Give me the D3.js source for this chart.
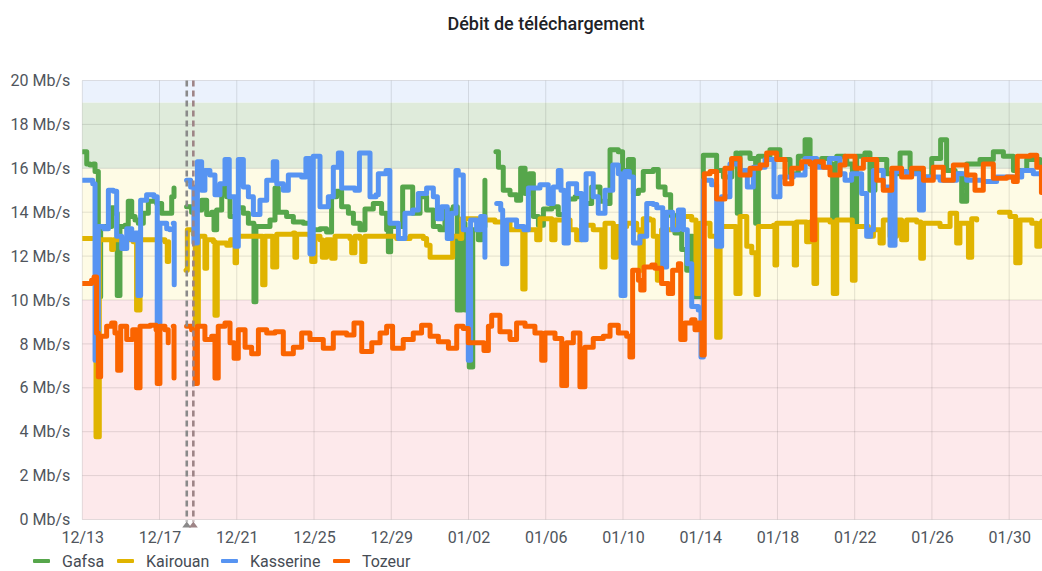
<!DOCTYPE html>
<html>
<head>
<meta charset="utf-8">
<script src="https://cdn.jsdelivr.net/npm/d3@7"></script>
<style>
	body { margin: 0; background: #fff; font-family: Roboto, "Noto Sans", sans-serif; }
	.tick text { fill: #4f555c; font-size: 16px; font-family: Roboto, sans-serif; }
	.title { fill: #202226; font-size: 18px; font-weight: 500; }
	.legendLabel { fill: #464c54; font-size: 16px; }
</style>
</head>
<body>
<div id="chart"></div>
<script>
// time axis labels and y ticks
var tickLabels = ["12/13","12/17","12/21","12/25","12/29","01/02","01/06","01/10","01/14","01/18","01/22","01/26","01/30"];
var yTicks = [0,2,4,6,8,10,12,14,16,18,20];
var thresholds = [0,10,16,19,20];
var spanDays = 49.7;          // visible range, days from 12/13 00:00
var annotationDays = [5.41, 5.75];

var seriesNames = ["Gafsa","Kairouan","Kasserine","Tozeur"];

// [days since 12/13, Mb/s] ; null = no data
var gafsa = [[0.02,16.75],[0.23,16.2],[0.40,16.15],[0.57,16.2],[0.66,15.85],[0.83,10.15],[0.95,13.35],[1.26,13.35],[1.52,14.2],[1.69,13.95],[1.81,10.2],[1.95,13.35],[2.21,13.4],[2.38,14.5],[2.56,13.8],[2.73,13.65],[2.90,13.5],[3.16,13.95],[3.42,14.5],[3.85,14.4],[4.11,13.95],[4.40,13.95],[4.63,14.7],[4.75,15.1],[4.8,null],
	[5.40,14.25],[5.66,14.0],[5.92,14.1],[6.18,14.55],[6.44,13.9],[6.70,14.0],[6.82,13.2],[6.96,14.1],[7.22,15.1],[7.48,14.7],[7.65,13.8],[7.99,14.2],[8.34,13.95],[8.60,13.5],[8.82,13.5],[8.89,9.92],[8.99,13.35],[9.37,13.35],[9.72,13.65],[9.98,15.1],[10.15,14.0],[10.58,13.8],[10.93,13.55],[11.45,13.5],[11.88,13.2],[12.31,13.25],[12.65,13.1],[12.91,14.7],[13.17,14.95],[13.43,14.25],[13.78,13.95],[14.04,13.5],[14.38,13.2],[14.64,14.15],[15.07,14.4],[15.50,13.95],[15.76,13.2],[15.85,12.2],[15.97,13.35],[16.37,13.35],[16.59,15.15],[16.94,15.15],[17.11,13.95],[17.49,14.7],[17.83,14.1],[18.18,13.35],[18.52,13.2],[18.78,14.1],[19.21,14.25],[19.42,9.55],[19.65,13.5],[19.82,9.55],[20.04,6.95],[20.22,13.2],[20.51,12.75],[20.68,13.35],[20.85,15.45],[20.95,null],
	[21.42,16.75],[21.55,16.05],[21.80,15.0],[22.15,14.8],[22.49,14.55],[22.70,16.0],[22.93,14.85],[23.15,15.75],[23.36,13.8],[23.62,13.4],[23.88,14.15],[24.31,14.25],[24.65,13.9],[25.00,14.6],[25.52,14.7],[26.03,14.4],[26.38,15.15],[26.81,14.5],[27.16,14.4],[27.33,16.85],[27.76,16.75],[27.98,15.9],[28.28,16.4],[28.54,14.85],[28.80,15.0],[29.05,15.85],[29.57,15.95],[29.83,15.15],[30.18,14.8],[30.47,13.85],[30.69,13.05],[31.04,12.3],[31.30,11.35],[31.47,12.9],[31.61,10.15],[31.82,10.15],[32.16,16.6],[32.59,16.6],[32.85,15.9],[33.20,15.6],[33.63,16.4],[33.85,16.7],[33.92,13.95],[34.06,16.7],[34.58,16.45],[34.87,13.5],[35.01,16.55],[35.61,16.85],[36.13,16.4],[36.65,15.75],[37.08,16.55],[37.43,17.3],[37.69,16.2],[38.29,16.45],[38.72,16.2],[38.86,13.65],[39.07,16.55],[39.50,16.45],[39.59,16.2],[39.88,13.5],[40.10,16.55],[40.53,16.7],[40.79,15.0],[41.05,16.4],[41.66,15.75],[42.35,16.7],[42.87,15.9],[43.38,15.6],[43.99,16.45],[44.45,17.3],[44.76,15.9],[45.20,15.75],[45.54,14.5],[45.80,16.2],[46.49,16.4],[47.18,16.75],[47.70,16.55],[48.22,15.9],[48.91,16.4],[49.60,16.1],[49.70,16.1]];

var kairouan = [[0.02,12.8],[0.57,12.8],[0.71,3.77],[0.88,12.75],[1.52,12.3],[1.61,12.75],[2.64,12.65],[2.81,9.55],[2.99,12.75],[4.28,12.65],[4.40,11.75],[4.47,12.65],[4.55,null],
	[5.37,11.35],[5.44,13.2],[5.75,13.0],[5.85,8.85],[6.01,12.9],[6.35,11.45],[6.44,12.75],[6.79,12.65],[6.87,9.3],[6.99,12.6],[7.48,12.5],[7.68,12.75],[7.91,11.7],[7.99,12.9],[9.20,12.9],[9.34,10.7],[9.46,12.9],[9.86,11.5],[10.07,13.0],[10.93,13.05],[11.01,11.95],[11.10,13.0],[11.79,12.9],[11.88,11.75],[12.05,12.9],[12.31,12.75],[12.43,11.95],[12.65,12.75],[12.91,11.9],[13.09,12.9],[13.86,12.8],[13.95,12.15],[14.12,12.9],[14.38,12.8],[14.47,11.75],[14.64,12.9],[16.28,12.8],[16.97,12.9],[17.66,12.8],[17.83,12.5],[18.01,11.95],[19.04,11.95],[19.18,12.9],[19.56,12.8],[19.65,13.7],[20.16,13.7],[20.60,13.65],[21.37,13.55],[22.15,13.2],[22.81,10.5],[22.93,13.2],[23.53,12.75],[23.70,13.7],[24.31,12.75],[24.48,13.65],[25.26,13.2],[25.60,12.75],[25.86,13.4],[26.46,13.2],[26.90,11.5],[27.07,13.5],[27.50,11.95],[27.67,13.35],[28.19,13.5],[28.71,13.2],[28.88,11.35],[29.05,13.7],[29.40,13.65],[29.57,12.9],[29.78,10.9],[30.00,13.2],[30.61,13.65],[31.13,13.8],[31.56,13.65],[31.78,10.3],[31.99,13.5],[32.51,12.9],[32.85,8.3],[33.03,13.35],[33.63,13.35],[33.85,10.3],[34.06,13.8],[34.41,12.45],[34.67,12.15],[34.89,10.25],[35.01,13.35],[35.79,13.4],[35.87,11.6],[35.96,13.5],[36.82,13.5],[36.87,11.6],[36.99,13.55],[37.51,12.65],[37.69,13.55],[37.89,10.75],[38.03,13.65],[38.72,13.55],[38.89,10.3],[39.07,13.65],[39.59,13.65],[39.88,10.9],[40.02,13.35],[40.45,13.35],[40.71,12.9],[40.97,13.2],[41.31,12.6],[41.48,13.65],[41.83,12.9],[42.17,13.65],[42.43,12.75],[42.69,13.65],[43.21,13.55],[43.42,11.9],[43.56,13.5],[44.42,13.35],[44.94,13.95],[45.28,12.6],[45.45,13.5],[45.89,11.95],[46.06,13.7],[46.32,13.65],[46.4,null],
	[47.49,14.0],[48.04,13.8],[48.34,11.7],[48.56,13.65],[49.17,13.5],[49.43,12.45],[49.60,13.5],[49.70,13.6]];

var kasserine = [[0.02,15.45],[0.54,15.3],[0.66,7.25],[0.83,13.35],[1.12,13.25],[1.35,15.0],[1.61,14.95],[1.78,12.9],[2.04,12.35],[2.30,13.25],[2.56,12.75],[2.73,13.05],[2.88,10.2],[3.02,14.55],[3.33,14.8],[3.71,14.7],[3.88,8.95],[4.02,13.5],[4.37,13.25],[4.54,13.2],[4.62,null],[4.71,13.5],[4.76,10.7],[4.8,null],
	[5.40,15.45],[5.61,15.15],[5.78,12.6],[5.96,16.3],[6.18,15.0],[6.35,15.9],[6.61,15.7],[6.87,14.8],[7.13,15.3],[7.39,16.4],[7.61,14.7],[7.91,12.45],[8.08,16.4],[8.34,15.15],[8.60,14.7],[8.86,13.9],[9.20,14.55],[9.55,15.45],[9.89,16.3],[10.07,15.3],[10.41,15.0],[10.67,15.7],[11.36,15.6],[11.58,16.45],[11.79,12.1],[11.96,16.55],[12.31,14.25],[12.74,14.7],[13.00,16.05],[13.26,16.7],[13.43,15.1],[14.12,15.0],[14.35,16.7],[14.76,16.7],[14.90,14.7],[15.21,14.8],[15.33,15.75],[15.73,15.9],[15.93,13.5],[16.37,12.8],[16.71,13.95],[17.11,14.1],[17.40,14.85],[17.83,15.1],[18.18,14.7],[18.39,13.7],[18.61,14.25],[18.90,12.8],[19.13,13.95],[19.35,15.9],[19.47,15.7],[19.73,13.2],[19.99,7.25],[20.11,13.65],[20.42,13.2],[20.63,13.8],[20.85,11.95],[20.95,null],
	[21.46,14.4],[21.67,14.1],[21.77,11.65],[21.98,13.65],[22.49,13.35],[22.87,13.2],[23.10,15.1],[23.70,15.25],[24.13,14.4],[24.39,15.15],[24.65,15.9],[24.79,15.0],[24.95,12.6],[25.17,15.3],[25.60,14.85],[25.86,12.75],[26.09,15.75],[26.46,14.7],[26.72,13.95],[27.07,15.0],[27.47,16.15],[27.76,15.75],[27.90,10.2],[28.10,15.85],[28.33,15.6],[28.54,12.6],[28.88,12.9],[29.23,14.4],[29.57,14.35],[29.75,14.2],[30.06,11.5],[30.26,14.0],[30.57,13.2],[30.87,14.1],[31.13,13.2],[31.33,11.65],[31.56,9.7],[31.90,9.55],[32.04,7.4],[32.16,15.45],[32.59,15.25],[32.85,12.45],[33.11,14.7],[33.54,16.2],[34.06,15.9],[34.44,15.15],[34.75,16.05],[35.36,16.4],[35.82,14.7],[36.13,15.6],[36.82,15.7],[37.43,16.45],[38.03,16.05],[38.69,16.45],[39.24,15.75],[39.50,15.45],[39.84,15.75],[40.36,14.85],[40.62,12.9],[40.83,13.2],[40.97,15.9],[41.48,15.15],[41.83,12.5],[42.09,15.85],[42.69,15.75],[43.35,14.1],[43.56,15.6],[44.42,15.45],[45.28,15.75],[45.80,15.45],[46.66,15.4],[47.35,15.6],[48.22,15.6],[48.65,15.9],[49.25,15.75],[49.70,15.6]];

var tozeur = [[0.02,10.75],[0.48,10.9],[0.61,11.05],[0.74,8.5],[0.83,6.5],[0.95,8.35],[1.26,8.8],[1.52,8.95],[1.69,8.5],[1.83,6.8],[1.99,8.8],[2.30,8.2],[2.61,8.65],[2.81,6.0],[2.99,8.8],[3.51,8.85],[3.82,8.65],[3.88,6.2],[4.02,8.8],[4.28,8.65],[4.45,8.05],[4.52,null],[4.71,8.8],[4.75,6.45],[4.8,null],
	[5.40,8.8],[5.66,8.65],[5.84,6.2],[5.96,8.8],[6.35,8.2],[6.70,8.35],[6.87,6.45],[7.04,8.8],[7.39,8.95],[7.65,8.05],[7.86,7.35],[8.08,8.65],[8.43,7.85],[8.77,7.55],[9.12,8.65],[9.55,8.5],[9.98,8.55],[10.41,7.55],[10.93,7.85],[11.36,8.5],[11.79,8.2],[12.48,7.8],[13.00,8.5],[13.69,8.4],[14.07,8.95],[14.47,7.65],[14.99,8.05],[15.42,8.5],[15.76,8.8],[16.07,7.8],[16.62,8.2],[17.14,8.5],[17.57,8.85],[18.01,8.35],[18.44,8.1],[18.96,7.8],[19.39,8.8],[19.73,8.7],[19.99,8.05],[20.42,8.05],[20.80,7.7],[21.03,8.8],[21.20,9.3],[21.63,8.55],[22.15,8.2],[22.49,8.95],[22.93,8.8],[23.44,8.5],[23.79,7.25],[23.96,8.5],[24.48,8.25],[24.83,6.1],[25.08,8.05],[25.43,8.5],[25.77,6.05],[26.03,7.85],[26.46,8.25],[26.98,8.35],[27.33,8.85],[27.76,8.5],[28.19,8.35],[28.36,7.4],[28.50,11.35],[28.80,10.9],[28.92,10.45],[29.09,11.5],[29.49,11.6],[29.66,11.45],[30.00,10.75],[30.35,10.3],[30.57,11.35],[30.87,11.65],[30.99,8.2],[31.21,8.95],[31.56,9.1],[31.73,8.65],[31.90,8.95],[32.09,7.5],[32.21,15.75],[32.51,15.85],[32.85,14.6],[33.28,16.0],[33.63,16.45],[34.06,15.7],[34.58,16.0],[35.10,16.15],[35.44,16.7],[35.96,16.4],[36.39,15.3],[36.74,16.0],[37.25,16.3],[37.69,16.2],[37.81,12.75],[37.94,16.3],[38.38,16.05],[38.72,15.7],[39.24,16.15],[39.50,16.55],[40.02,16.0],[40.45,16.4],[41.14,15.45],[41.48,15.0],[41.92,16.0],[42.43,15.6],[42.95,16.0],[43.56,15.45],[44.07,16.05],[44.59,15.45],[45.11,16.15],[45.80,15.7],[46.23,15.0],[46.66,16.2],[47.18,15.55],[47.87,15.6],[48.22,15.4],[48.42,16.55],[49.08,16.6],[49.43,16.05],[49.67,14.9],[49.70,14.9]];

var seriesData = [gafsa, kairouan, kasserine, tozeur];

chartDraw();

function chartDraw() {
	var width = 1042, height = 571;
	var margin = {top: 80.5, left: 82.3, bottom: 51.5, right: 0};

	var colors = ["#56a64b","#e0b400","#5794f2","#fa6400"];
	var bandColors = ["#fde9eb","#fefbe5","#dfebdb","#ebf2fd"];

	var startDate = new Date(Date.UTC(2021, 11, 13));
	var toDate = function(days) { return new Date(startDate.getTime() + days * 864e5); };
	var parseTick = function(lbl) {
		var year = lbl.substring(0, 2) === "12" ? 2021 : 2022;
		return d3.utcParse("%m/%d/%Y")(lbl + "/" + year);
	};

	var x = d3.scaleUtc()
		.domain([startDate, toDate(spanDays)])
		.range([margin.left, width - margin.right]);

	var y = d3.scaleLinear()
		.domain([0, 20])
		.range([height - margin.bottom, margin.top]);

	var svg = d3.select("#chart").append("svg")
		.attr("width", width)
		.attr("height", height);

	svg.append("defs").append("clipPath").attr("id", "plotClip")
		.append("rect")
		.attr("x", x.range()[0]).attr("y", y(20) - 3)
		.attr("width", x.range()[1] - x.range()[0])
		.attr("height", y(0) - y(20) + 6);

	// threshold bands
	svg.append("g").selectAll("rect")
		.data(d3.pairs(thresholds))
		.enter().append("rect")
		.attr("x", x.range()[0])
		.attr("width", x.range()[1] - x.range()[0])
		.attr("y", function(d) { return y(d[1]); })
		.attr("height", function(d) { return y(d[0]) - y(d[1]); })
		.attr("fill", function(d, i) { return bandColors[i]; });

	// grid
	var tickDates = tickLabels.map(parseTick);
	svg.append("g").selectAll("line")
		.data(tickDates)
		.enter().append("line")
		.attr("x1", function(d) { return x(d); })
		.attr("x2", function(d) { return x(d); })
		.attr("y1", y(20)).attr("y2", y(0))
		.attr("stroke", "rgba(0,0,0,0.11)");

	svg.append("g").selectAll("line")
		.data(yTicks)
		.enter().append("line")
		.attr("x1", x.range()[0]).attr("x2", x.range()[1])
		.attr("y1", function(d) { return y(d); })
		.attr("y2", function(d) { return y(d); })
		.attr("stroke", "rgba(0,0,0,0.11)");

	// series - stepped, like the dashboard's dense samples
	var line = d3.line()
		.defined(function(d) { return d[1] != null; })
		.curve(d3.curveStepAfter)
		.x(function(d) { return x(toDate(d[0])); })
		.y(function(d) { return y(d[1]); });

	svg.append("g").attr("clip-path", "url(#plotClip)")
		.selectAll("path")
		.data(seriesData)
		.enter().append("path")
		.attr("d", line)
		.attr("fill", "none")
		.attr("stroke", function(d, i) { return colors[i]; })
		.attr("stroke-width", 5)
		.attr("stroke-linejoin", "round")
		.attr("stroke-linecap", "round");

	// annotations
	var annColors = ["#8a8a8a", "#9e8486"];
	var ann = svg.append("g").selectAll("g")
		.data(annotationDays)
		.enter().append("g")
		.attr("transform", function(d) { return "translate(" + x(toDate(d)) + ",0)"; });

	ann.append("line")
		.attr("y1", y(20)).attr("y2", y(0) + 2)
		.attr("stroke", function(d, i) { return annColors[i]; })
		.attr("stroke-width", 2.6)
		.attr("stroke-dasharray", "6,4");

	ann.append("path")
		.attr("d", "M-4.5," + (y(0) + 8) + "L0," + (y(0) + 2) + "L4.5," + (y(0) + 8) + "Z")
		.attr("fill", function(d, i) { return annColors[i]; });

	// axes
	svg.append("g")
		.attr("transform", "translate(0," + y(0) + ")")
		.call(d3.axisBottom(x).tickValues(tickDates).tickSize(0).tickPadding(12)
			.tickFormat(function(d, i) { return tickLabels[i]; }))
		.call(function(g) { g.select(".domain").remove(); });

	svg.append("g")
		.attr("transform", "translate(" + x.range()[0] + ",0)")
		.call(d3.axisLeft(y).tickValues(yTicks).tickSize(0).tickPadding(12)
			.tickFormat(function(d) { return d + " Mb/s"; }))
		.call(function(g) { g.select(".domain").remove(); });

	svg.selectAll(".tick text").attr("font-family", null).attr("font-size", null);

	// title
	svg.append("text")
		.attr("class", "title")
		.attr("x", 546).attr("y", 30)
		.attr("text-anchor", "middle")
		.text("Débit de téléchargement");

	// legend
	var legendX = [33, 117, 221, 333];
	var leg = svg.append("g").selectAll("g")
		.data(seriesNames)
		.enter().append("g")
		.attr("transform", function(d, i) { return "translate(" + legendX[i] + ",561)"; });

	leg.append("rect")
		.attr("x", 0).attr("y", -2)
		.attr("width", 17).attr("height", 4)
		.attr("rx", 1)
		.attr("fill", function(d, i) { return colors[i]; });

	leg.append("text")
		.attr("class", "legendLabel")
		.attr("x", 29).attr("y", 6)
		.text(function(d) { return d; });
}
</script>
</body>
</html>
